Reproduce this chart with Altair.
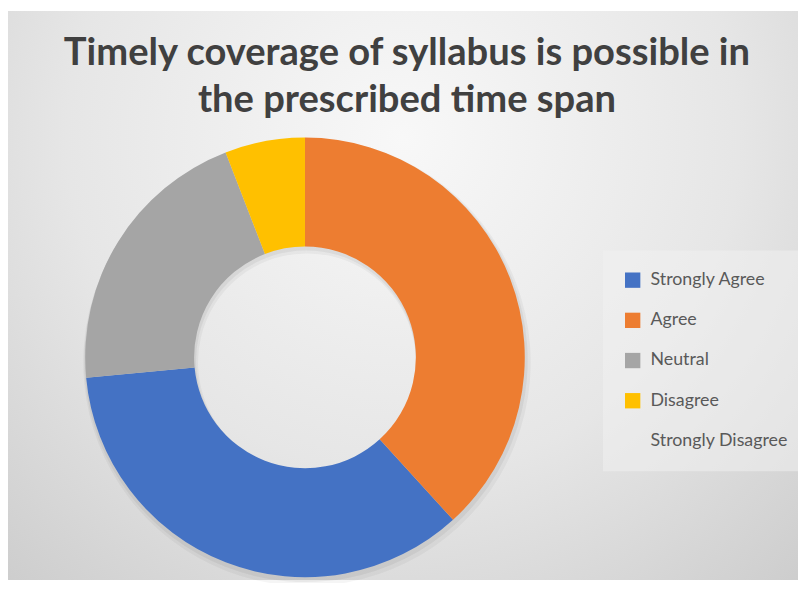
import altair as alt
import pandas as pd

categories = ["Strongly Agree", "Agree", "Neutral", "Disagree", "Strongly Disagree"]
counts = [12, 13, 7, 2, 0]
draw_order = [2, 1, 3, 4, 5]
colors = ["#4472C4", "#ED7D31", "#A5A5A5", "#FFC000", "rgba(0,0,0,0)"]
title_lines = ["Timely coverage of syllabus is possible in", "the prescribed time span"]

W, H = 798, 575
df = pd.DataFrame({"category": categories, "count": counts, "ord": draw_order})
one = pd.DataFrame({"a": [0]})

bg = alt.Chart(one).mark_rect(
    color=alt.Gradient(
        gradient="radial",
        stops=[alt.GradientStop(color="#f8f8f8", offset=0),
               alt.GradientStop(color="#e6e6e6", offset=0.5),
               alt.GradientStop(color="#c6c6c6", offset=1)],
        x1=0.5, y1=0.3, x2=0.5, y2=0.3, r1=0, r2=0.85,
    )
).encode(x=alt.value(0), x2=alt.value(W), y=alt.value(0), y2=alt.value(H))

shadow1 = alt.Chart(df).mark_arc(innerRadius=110, outerRadius=226, color="#000000", opacity=0.04).encode(
    theta=alt.Theta("count:Q", stack=True),
    order=alt.Order("ord:Q"),
    x=alt.value(302), y=alt.value(355),
)
shadow2 = alt.Chart(df).mark_arc(innerRadius=111, outerRadius=224, color="#000000", opacity=0.05).encode(
    theta=alt.Theta("count:Q", stack=True),
    order=alt.Order("ord:Q"),
    x=alt.value(301), y=alt.value(353),
)

donut = alt.Chart(df).mark_arc(innerRadius=112, outerRadius=222).encode(
    theta=alt.Theta("count:Q", stack=True),
    order=alt.Order("ord:Q"),
    color=alt.Color(
        "category:N",
        scale=alt.Scale(domain=categories, range=colors),
        legend=alt.Legend(
            title=None, orient="none", legendX=601, legendY=242,
            fillColor="rgba(240,240,240,0.55)", padding=21,
            symbolType="square", symbolSize=240, symbolStrokeWidth=0,
            labelFont="Lato", labelFontSize=18, labelColor="#595959",
            rowPadding=22.6, labelOffset=9,
        ),
    ),
    x=alt.value(300), y=alt.value(350),
)

title = alt.Chart(one).mark_text(
    text=title_lines, font="Lato", fontSize=38.5, fontWeight="bold", color="#404040",
    align="center", baseline="alphabetic", lineHeight=47,
).encode(x=alt.value(403), y=alt.value(55))

chart = alt.layer(bg, shadow1, shadow2, donut, title).properties(
    width=W, height=H, autosize=alt.AutoSizeParams(type="none"), padding=0
).configure_view(strokeWidth=0)

chart.save("out.html", embed_options={"renderer": "svg", "actions": False})
